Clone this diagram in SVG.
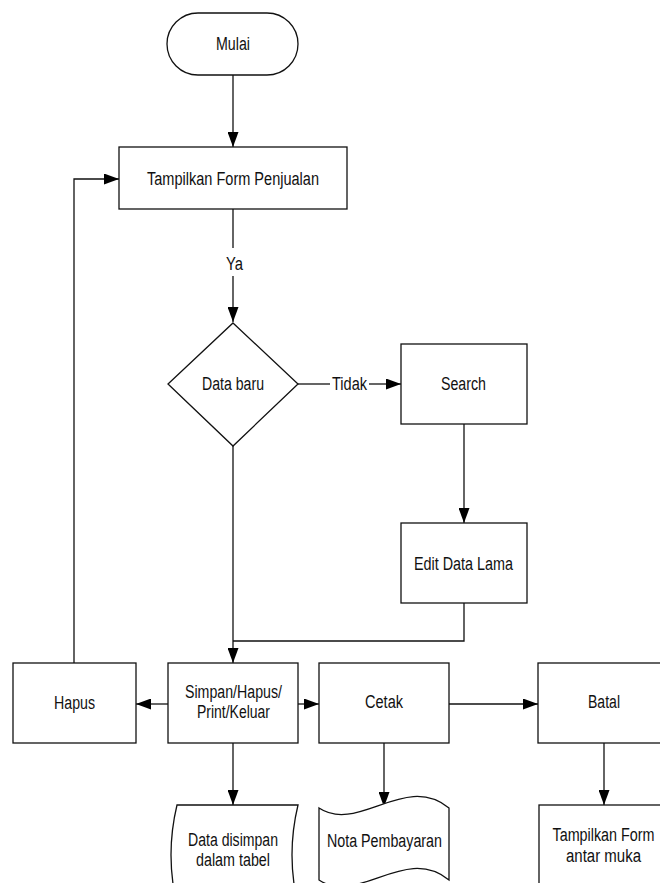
<svg xmlns="http://www.w3.org/2000/svg" width="660" height="883" viewBox="0 0 660 883">
  <style>
    .shape { fill: #fff; stroke: #111; stroke-width: 1.3; }
    .line { fill: none; stroke: #111; stroke-width: 1.3; }
    text { font-family: "Liberation Sans Narrow", "Liberation Sans", Arial, sans-serif; font-size: 18px; fill: #111; text-anchor: middle; }
  </style>
  <defs>
    <marker id="arrow" viewBox="0 0 15 11" refX="15" refY="5.5" markerWidth="15" markerHeight="11" markerUnits="userSpaceOnUse" orient="auto">
      <path d="M0,0 L15,5.5 L0,11 z" fill="#000"/>
    </marker>
  </defs>
  <rect width="660" height="883" fill="#fff"/>

  <!-- connectors -->
  <g id="connectors">
    <path class="line" d="M233,75 V147" marker-end="url(#arrow)"/>
    <path class="line" d="M233,209 V248"/>
    <path class="line" d="M233,276 V322" marker-end="url(#arrow)"/>
    <path class="line" d="M298,384 H330"/>
    <path class="line" d="M369,384 H401" marker-end="url(#arrow)"/>
    <path class="line" d="M464,424 V523" marker-end="url(#arrow)"/>
    <path class="line" d="M464,603 V641 H233"/>
    <path class="line" d="M233,446 V663" marker-end="url(#arrow)"/>
    <path class="line" d="M168,704 H136" marker-end="url(#arrow)"/>
    <path class="line" d="M298,704 H319" marker-end="url(#arrow)"/>
    <path class="line" d="M449,704 H538" marker-end="url(#arrow)"/>
    <path class="line" d="M74,663 V179 H119" marker-end="url(#arrow)"/>
    <path class="line" d="M233,743 V805" marker-end="url(#arrow)"/>
    <path class="line" d="M384,743 V807" marker-end="url(#arrow)"/>
    <path class="line" d="M604,743 V805" marker-end="url(#arrow)"/>
    <text x="234.5" y="270" textLength="17" lengthAdjust="spacingAndGlyphs">Ya</text>
    <text x="349.5" y="390" textLength="35" lengthAdjust="spacingAndGlyphs">Tidak</text>
  </g>

  <!-- start -->
  <g id="mulai">
    <rect class="shape" x="167" y="13" width="131" height="62" rx="31" ry="31"/>
    <text x="233" y="50" textLength="34" lengthAdjust="spacingAndGlyphs">Mulai</text>
  </g>

  <g id="tampilkan-form-penjualan">
    <rect class="shape" x="119" y="147" width="228" height="62"/>
    <text x="233" y="185" textLength="172" lengthAdjust="spacingAndGlyphs">Tampilkan Form Penjualan</text>
  </g>

  <g id="data-baru">
    <path class="shape" d="M233,323 L298,384 L233,446 L168,384 Z"/>
    <text x="233" y="390" textLength="62" lengthAdjust="spacingAndGlyphs">Data baru</text>
  </g>

  <g id="search">
    <rect class="shape" x="401" y="344" width="126" height="80"/>
    <text x="463.5" y="390" textLength="45" lengthAdjust="spacingAndGlyphs">Search</text>
  </g>

  <g id="edit-data-lama">
    <rect class="shape" x="401" y="523" width="126" height="80"/>
    <text x="463.5" y="570" textLength="99" lengthAdjust="spacingAndGlyphs">Edit Data Lama</text>
  </g>

  <g id="hapus">
    <rect class="shape" x="13" y="663" width="123" height="80"/>
    <text x="74.5" y="709" textLength="41" lengthAdjust="spacingAndGlyphs">Hapus</text>
  </g>

  <g id="simpan">
    <rect class="shape" x="168" y="663" width="130" height="80"/>
    <text x="233.5" y="698" textLength="97" lengthAdjust="spacingAndGlyphs">Simpan/Hapus/</text>
    <text x="233.5" y="718" textLength="73" lengthAdjust="spacingAndGlyphs">Print/Keluar</text>
  </g>

  <g id="cetak">
    <rect class="shape" x="319" y="663" width="130" height="80"/>
    <text x="384" y="708" textLength="38" lengthAdjust="spacingAndGlyphs">Cetak</text>
  </g>

  <g id="batal">
    <rect class="shape" x="538" y="663" width="131" height="80"/>
    <text x="604" y="708" textLength="32" lengthAdjust="spacingAndGlyphs">Batal</text>
  </g>

  <!-- stored data -->
  <g id="data-disimpan">
    <path class="shape" d="M177,805 H298 Q286,855 298,905 H177 Q165,855 177,805 Z"/>
    <text x="233" y="846" textLength="90" lengthAdjust="spacingAndGlyphs">Data disimpan</text>
    <text x="233" y="866" textLength="74" lengthAdjust="spacingAndGlyphs">dalam tabel</text>
  </g>

  <!-- punched tape / document -->
  <g id="nota-pembayaran">
    <path class="shape" d="M319,808 C358,834 405,772 449,808 V880 C405,844 358,906 319,880 Z"/>
    <text x="384.5" y="847" textLength="115" lengthAdjust="spacingAndGlyphs">Nota Pembayaran</text>
  </g>

  <g id="tampilkan-form-antar-muka">
    <rect class="shape" x="539" y="805" width="130" height="90"/>
    <text x="603.5" y="841" textLength="102" lengthAdjust="spacingAndGlyphs">Tampilkan Form</text>
    <text x="603.5" y="862" textLength="75" lengthAdjust="spacingAndGlyphs">antar muka</text>
  </g>
</svg>
